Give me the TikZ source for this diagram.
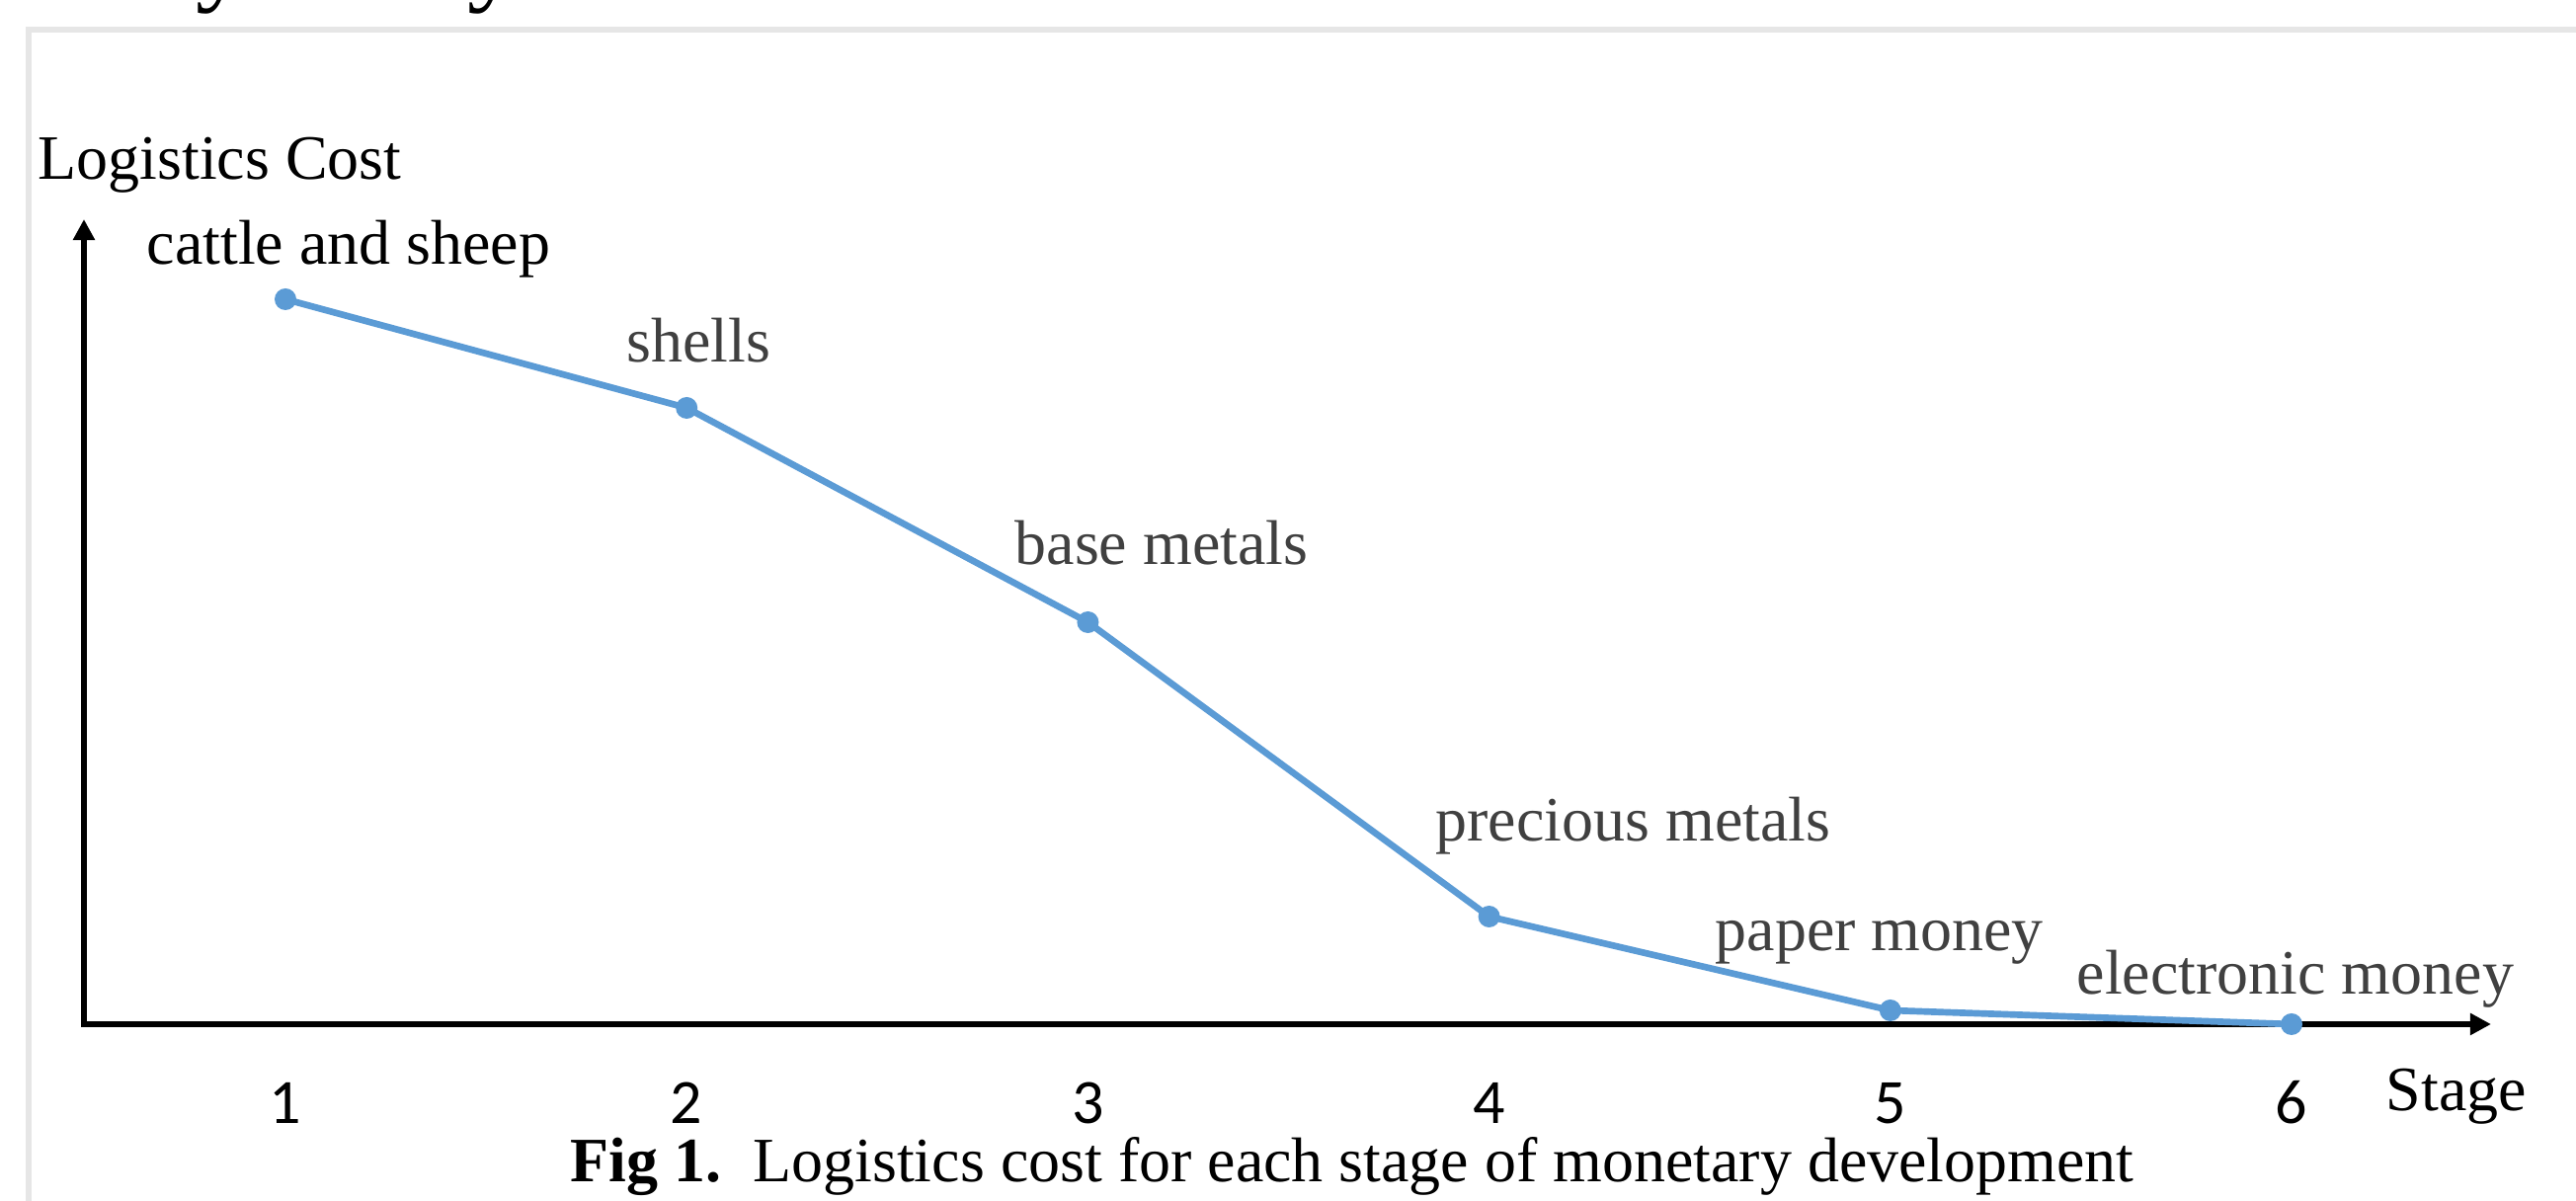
\documentclass[tikz,border=0pt]{standalone}
\usepackage{fontspec}
\setmainfont{Liberation Serif}
\newfontfamily\digitfont{Carlito}
\usetikzlibrary{arrows.meta}
\definecolor{lineblue}{HTML}{5B9BD5}
\definecolor{labelgray}{HTML}{404040}
\definecolor{framegray}{HTML}{E6E6E6}

\begin{document}
\begin{tikzpicture}[
        axis/.style={black, line width=1.6pt, {Triangle[length=6pt,width=6pt]}-{Triangle[length=6pt,width=6pt]}},
        curve/.style={lineblue, line width=1.9pt, line join=round},
        dot/.style={circle, fill=lineblue, inner sep=0pt, minimum size=0.22cm},
        txt/.style={inner sep=0pt, font=\fontsize{18.2}{22}\selectfont},
        lbl/.style={txt, anchor=base west, labelgray},
        axislbl/.style={txt, anchor=base west, black},
        tick/.style={txt, anchor=base, font=\fontsize{18.2}{22}\selectfont\digitfont}
    ]
        \useasboundingbox (0,0) rectangle (26.08,12.16);
        \clip (0,0) rectangle (26.08,12.16);

        % frame and cut title
        \draw[framegray, line width=0.06cm] (0.285,-1) |- (27,11.86);
        \node[txt, anchor=base, font=\fontsize{30}{34}\selectfont] (tail1) at (2.25,12.24) {y};
        \node[txt, anchor=base, font=\fontsize{30}{34}\selectfont] (tail2) at (5.00,12.24) {y};

        % axes
        \coordinate (O) at (0.85,1.79);
        \coordinate (ytip) at (0.85,9.94);
        \coordinate (xtip) at (25.22,1.79);
        \draw[axis] (ytip) -- (O) -- (xtip);
        \node[axislbl] (ylab) at (0.38,10.34) {Logistics Cost};
        \node[axislbl] (xlab) at (24.15,0.91) {Stage};

        % stages
        \foreach \k/\y in {1/9.13, 2/8.03, 3/5.86, 4/2.88, 5/1.93, 6/1.79} {
            \coordinate (p\k) at ({2.89+(\k-1)*4.062},\y);
            \node[tick] (t\k) at ({2.89+(\k-1)*4.062},0.78) {\k};
        }
        \draw[curve] (p1) -- (p2) -- (p3) -- (p4) -- (p5) -- (p6);
        \foreach \k in {1,...,6}
            \node[dot] (d\k) at (p\k) {};

        \node[axislbl] (n1) at (1.48,9.48) {cattle and sheep};
        \node[lbl] (n2) at (6.34,8.49) {shells};
        \node[lbl] (n3) at (10.27,6.44) {base metals};
        \node[lbl] (n4) at (14.53,3.64) {precious metals};
        \node[lbl] (n5) at (17.36,2.53) {paper money};
        \node[lbl] (n6) at (21.02,2.09) {electronic money};

        \node[axislbl] (cap) at (5.77,0.19) {\textbf{Fig 1.}\ \ Logistics cost for each stage of monetary development};

    \end{tikzpicture}
\end{document}
